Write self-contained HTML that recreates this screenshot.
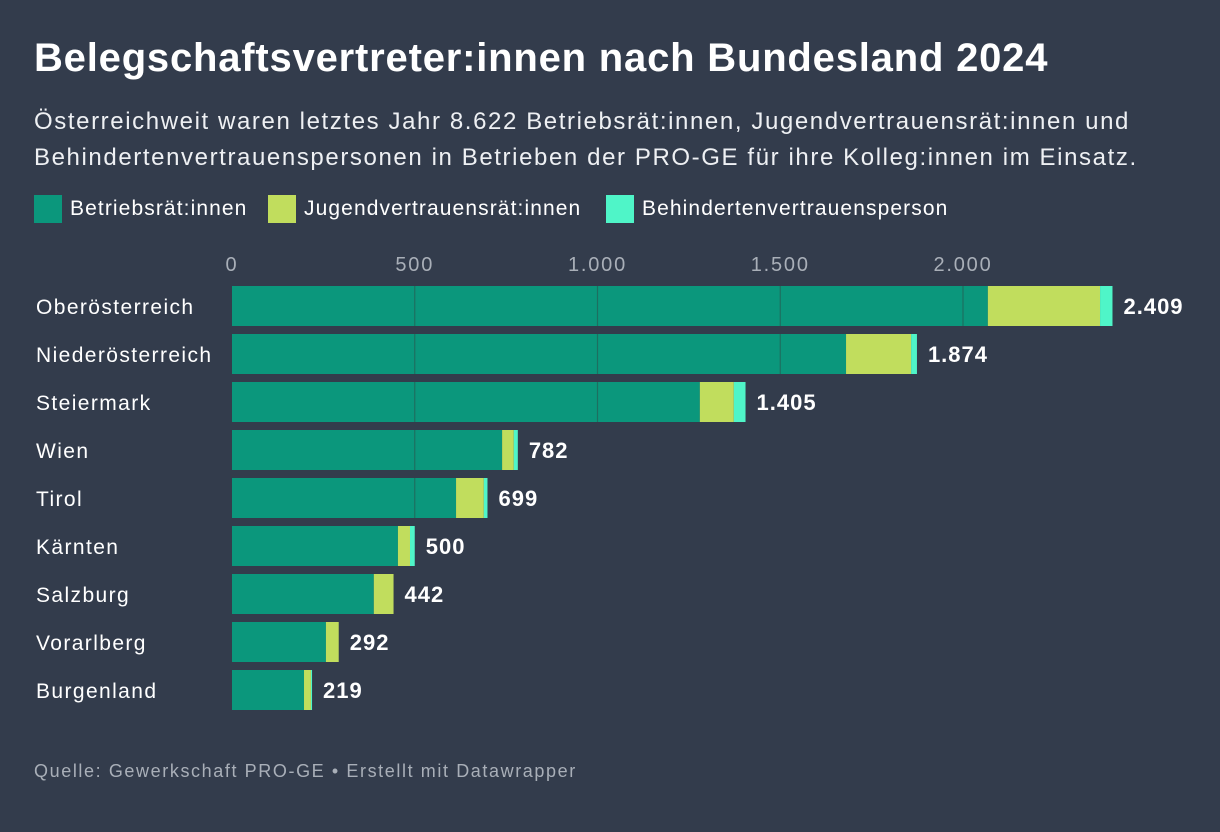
<!DOCTYPE html>
<html><head><meta charset="utf-8"><style>
body{margin:0;width:1220px;height:832px;background:#333c4c;font-family:"Liberation Sans",sans-serif;color:#fff;position:relative;overflow:hidden}
.t{position:absolute;left:34px;top:36px;font-size:40px;font-weight:bold;letter-spacing:0.8px}
.s{position:absolute;left:34px;top:104px;font-size:24px;line-height:36px;color:#eef0f3;letter-spacing:1.6px;white-space:nowrap}
.lg{position:absolute;top:195px;font-size:21px;display:flex;align-items:center;letter-spacing:1.1px}
.sw{width:28px;height:28px;margin-right:8px}
.f{position:absolute;left:34px;top:761px;font-size:18px;color:#a9afb8;letter-spacing:1.6px}
</style></head><body>
<div class="t">Belegschaftsvertreter:innen nach Bundesland 2024</div>
<div class="s">Österreichweit waren letztes Jahr 8.622 Betriebsrät:innen, Jugendvertrauensrät:innen und<br>Behindertenvertrauenspersonen in Betrieben der PRO-GE für ihre Kolleg:innen im Einsatz.</div>
<div class="lg" style="left:34px"><div class="sw" style="background:#0b977c"></div>Betriebsrät:innen</div>
<div class="lg" style="left:268px"><div class="sw" style="background:#c1dd5d"></div>Jugendvertrauensrät:innen</div>
<div class="lg" style="left:606px"><div class="sw" style="background:#4ff5c8"></div>Behindertenvertrauensperson</div>
<svg id="c" width="1220" height="832" style="position:absolute;left:0;top:0"></svg>
<div class="f">Quelle: Gewerkschaft PRO-GE • Erstellt mit Datawrapper</div>
<script>
const categories=["Oberösterreich","Niederösterreich","Steiermark","Wien","Tirol","Kärnten","Salzburg","Vorarlberg","Burgenland"];
const betriebsraete=[2068,1680,1280,739,613,454,388,257,197];
const jugend=[307,178,93,32,76,33,54,35,19];
const behinderten=[34,16,32,11,10,13,0,0,3];
const totals=["2.409","1.874","1.405","782","699","500","442","292","219"];
const ticks=[0,500,1000,1500,2000];
const tickLabels=["0","500","1.000","1.500","2.000"];
const ns="http://www.w3.org/2000/svg",svg=document.getElementById("c");
const x=v=>232+v*0.3655, y=i=>286+i*48, bh=40;
function mk(t,a){const e=document.createElementNS(ns,t);for(const k in a)e.setAttribute(k,a[k]);svg.appendChild(e);return e;}
ticks.forEach((t,i)=>{
 const tx=mk("text",{x:x(t),y:271,"text-anchor":"middle","font-size":"20","fill":"#a9afb8","letter-spacing":"1.8"});tx.textContent=tickLabels[i];
 
 
});
categories.forEach((c,i)=>{
 const l=mk("text",{x:36,y:y(i)+28,"font-size":"21","fill":"#fff","letter-spacing":"1.4"});l.textContent=c;
 
 
 const a=betriebsraete[i],b=jugend[i],d=behinderten[i];
 const r1=mk("rect",{x:x(0),y:y(i),width:x(a)-x(0),height:bh,fill:"#0b977c"});
 
 
 const r2=mk("rect",{x:x(a),y:y(i),width:x(a+b)-x(a),height:bh,fill:"#c1dd5d"});
 
 
 const r3=mk("rect",{x:x(a+b),y:y(i),width:x(a+b+d)-x(a+b),height:bh,fill:"#4ff5c8"});
 
 
 ticks.slice(1).forEach(t=>{if(t<a){const g=mk("line",{x1:x(t),x2:x(t),y1:y(i),y2:y(i)+bh,stroke:"#1d6f60","stroke-width":"1.2"});
  
  }});
 const v=mk("text",{x:x(a+b+d)+11,y:y(i)+28,"font-size":"22","font-weight":"bold","fill":"#fff","letter-spacing":"1"});v.textContent=totals[i];
 
 
});
</script>
</body></html>
